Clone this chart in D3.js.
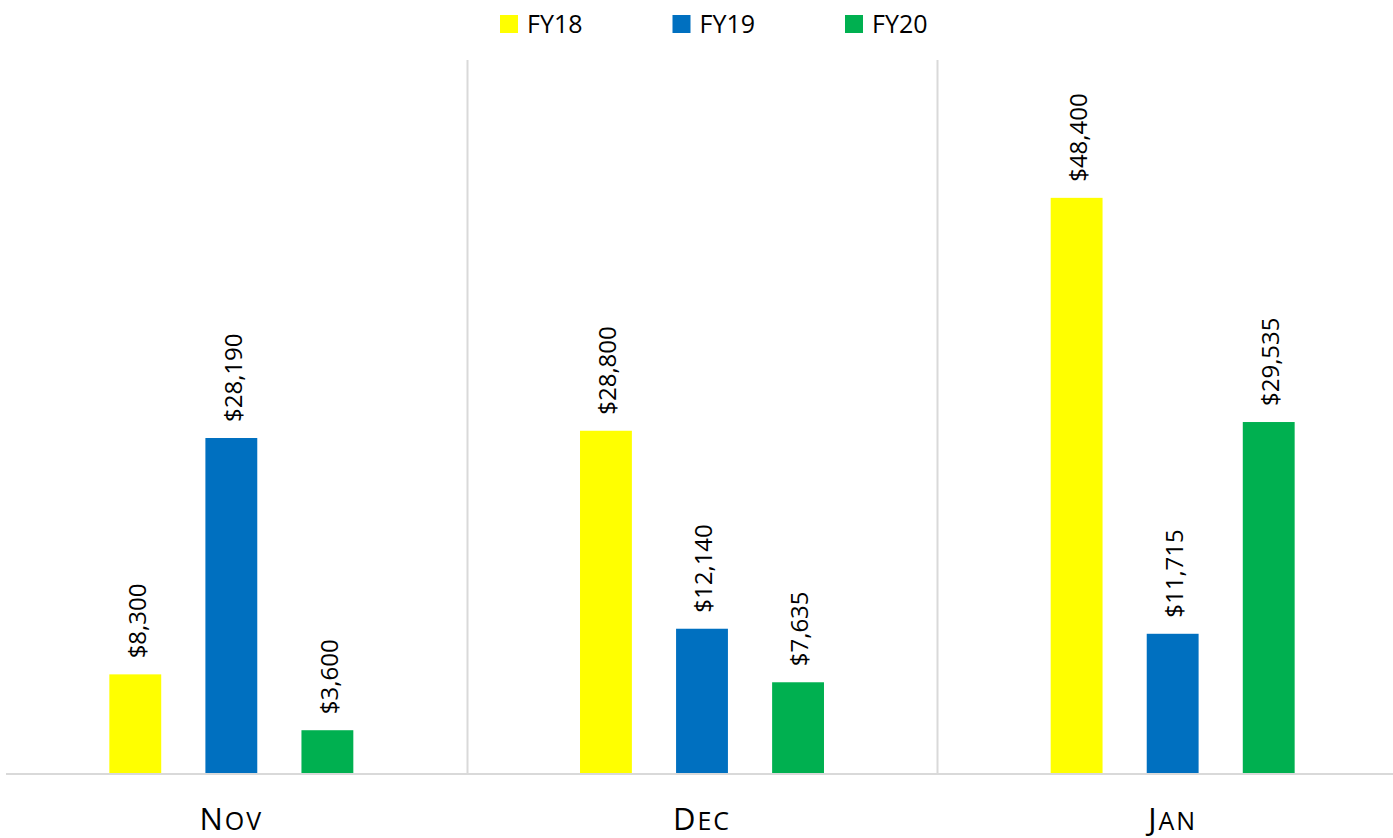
<!DOCTYPE html>
<html>
<head>
<meta charset="utf-8">
<script src="https://cdn.jsdelivr.net/npm/d3@7"></script>
<style>
  body { margin: 0; background: #fff; }
  svg { display: block; font-family: "Open Sans", sans-serif; }
</style>
</head>
<body>
<svg id="chart"></svg>
<script>
    'use strict';

    var months = ['Nov', 'Dec', 'Jan'];
    var series = ['FY18', 'FY19', 'FY20'];
    var fy18 = [8300, 28800, 48400];
    var fy19 = [28190, 12140, 11715];
    var fy20 = [3600, 7635, 29535];
    var colors = ['#FFFF00', '#0070C0', '#00B050'];

    var width = 1393;
    var height = 838;
    var baseY = 773;
    var topY = 60;

    var values = [fy18, fy19, fy20];
    var data = months.map(function(m, i) {
        return { month: m, bars: series.map(function(s, j) { return { key: s, value: values[j][i], color: colors[j] }; }) };
    });

    var svg = d3.select('#chart')
        .attr('width', width)
        .attr('height', height);

    var x0 = d3.scaleBand().domain(months).range([-4, 1408]).padding(0);
    var x1 = d3.scaleBand().domain(series).range([0, x0.bandwidth()])
        .paddingInner(0.46).paddingOuter(1.18);
    var y = d3.scaleLinear().domain([0, 60000]).range([baseY, topY]);

    var fmt = d3.format('$,');

    // separators between categories
    svg.selectAll('line.sep')
        .data(months.slice(1))
        .enter()
        .append('line')
        .attr('class', 'sep')
        .attr('x1', function(d) { return Math.round(x0(d)) + 0.5; })
        .attr('x2', function(d) { return Math.round(x0(d)) + 0.5; })
        .attr('y1', topY)
        .attr('y2', baseY)
        .attr('stroke', '#d9d9d9')
        .attr('stroke-width', 2);

    var group = svg.selectAll('g.month')
        .data(data)
        .enter()
        .append('g')
        .attr('class', 'month')
        .attr('transform', function(d) { return 'translate(' + x0(d.month) + ',0)'; });

    group.selectAll('rect')
        .data(function(d) { return d.bars; })
        .enter()
        .append('rect')
        .attr('x', function(d) { return x1(d.key); })
        .attr('width', x1.bandwidth())
        .attr('y', function(d) { return y(d.value); })
        .attr('height', function(d) { return baseY - y(d.value); })
        .attr('fill', function(d) { return d.color; });

    group.selectAll('text.val')
        .data(function(d) { return d.bars; })
        .enter()
        .append('text')
        .attr('class', 'val')
        .attr('transform', function(d) {
            return 'translate(' + (x1(d.key) + x1.bandwidth() / 2 + 2) + ',' + (y(d.value) - 16) + ') rotate(-90)';
        })
        .attr('dy', '0.35em')
        .attr('font-size', 24)
        .attr('fill', '#000')
        .text(function(d) { return fmt(d.value); });

    // baseline
    svg.append('line')
        .attr('x1', 6)
        .attr('x2', width)
        .attr('y1', baseY + 1)
        .attr('y2', baseY + 1)
        .attr('stroke', '#d9d9d9')
        .attr('stroke-width', 2);

    // category labels, drawn as small caps
    var cat = svg.selectAll('text.cat')
        .data(months)
        .enter()
        .append('text')
        .attr('class', 'cat')
        .attr('x', function(d) { return x0(d) + x0.bandwidth() / 2; })
        .attr('y', 830)
        .attr('text-anchor', 'middle')
        .attr('letter-spacing', 2)
        .attr('fill', '#000');

    cat.append('tspan')
        .attr('font-size', 31)
        .text(function(d) { return d.charAt(0); });
    cat.append('tspan')
        .attr('font-size', 25)
        .text(function(d) { return d.slice(1).toUpperCase(); });

    // legend
    var legend = svg.selectAll('g.legend')
        .data(series)
        .enter()
        .append('g')
        .attr('class', 'legend')
        .attr('transform', function(d, i) { return 'translate(' + (500 + i * 172.5) + ',15)'; });

    legend.append('rect')
        .attr('width', 18)
        .attr('height', 18)
        .attr('fill', function(d, i) { return colors[i]; });

    legend.append('text')
        .attr('x', 27)
        .attr('y', 18)
        .attr('font-size', 25)
        .attr('fill', '#000')
        .text(function(d) { return d; });
</script>
</body>
</html>
